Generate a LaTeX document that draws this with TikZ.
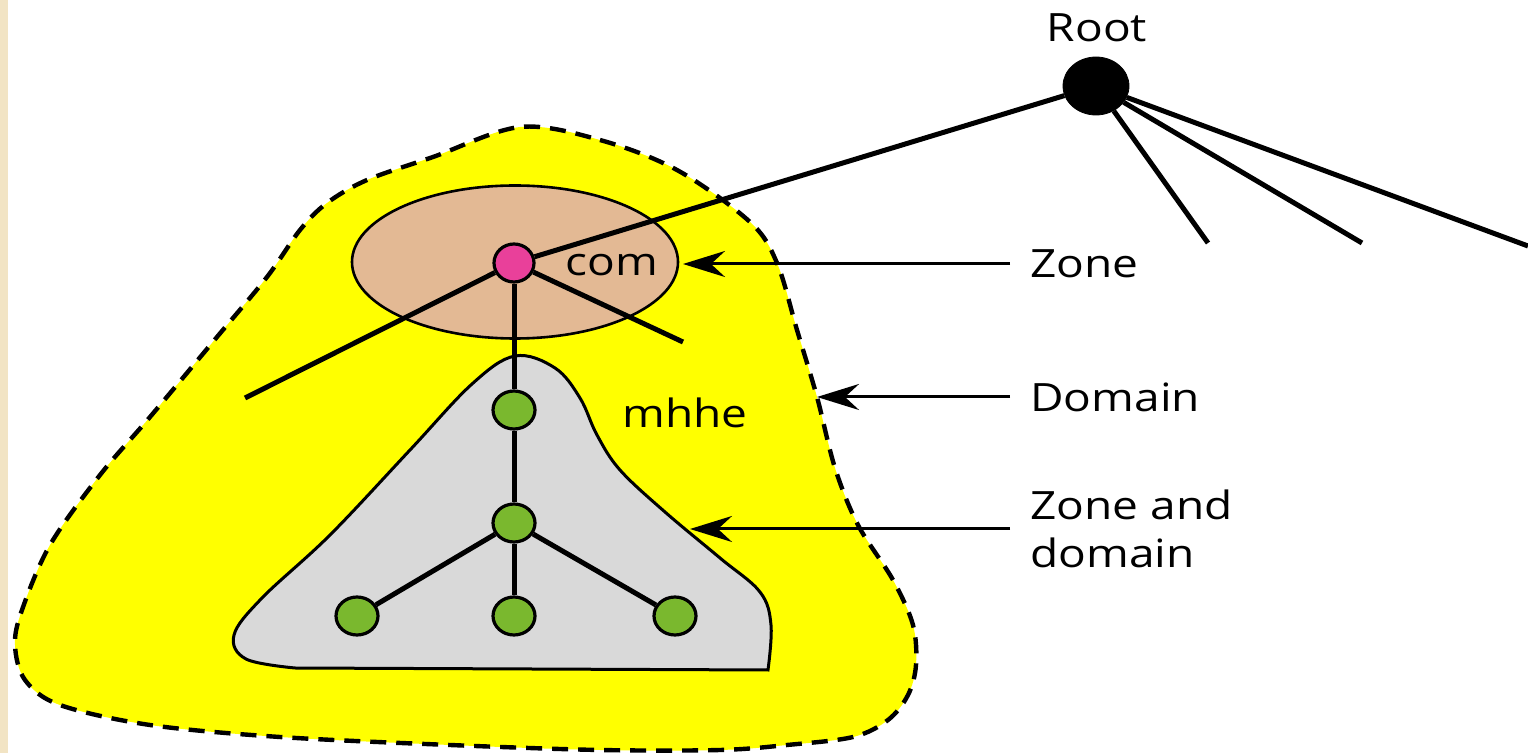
\documentclass[tikz,border=0pt]{standalone}
\usepackage{fontspec}
\newfontfamily\labelfont{Open Sans}[FakeStretch=1.18]
\usetikzlibrary{shapes.geometric,arrows.meta}
\definecolor{stripbg}{HTML}{F2E4C4}
\definecolor{domainyellow}{HTML}{FFFF00}
\definecolor{zonegray}{HTML}{D9D9D9}
\definecolor{zonetan}{HTML}{E3B994}
\definecolor{compink}{HTML}{E9409A}
\definecolor{leafgreen}{HTML}{7AB82E}
\begin{document}
\begin{tikzpicture}[x=0.5pt, y=-0.5pt]
    \tikzstyle{hub} = [shape=ellipse, draw=black, fill=black, minimum width=33pt, minimum height=29pt, inner sep=0pt]
    \tikzstyle{comnode} = [shape=ellipse, draw=black, line width=1.6pt, fill=compink, minimum width=20pt, minimum height=19pt, inner sep=0pt]
    \tikzstyle{leaf} = [shape=ellipse, draw=black, line width=1.6pt, fill=leafgreen, minimum width=21pt, minimum height=19pt, inner sep=0pt]
    \tikzstyle{zonearea} = [shape=ellipse, draw=black, line width=1.3pt, fill=zonetan, minimum width=163pt, minimum height=76.5pt, inner sep=0pt]
    \tikzstyle{txt} = [font=\labelfont\fontsize{19.5}{24}\selectfont, inner sep=0pt]
    \tikzstyle{side} = [txt, anchor=west, inner xsep=10pt, align=left]
    \tikzstyle{branch} = [line width=2.5pt]
    \tikzstyle{pointer} = [line width=1.5pt, -{Stealth[length=21pt, width=13pt, inset=7pt]}]
    \useasboundingbox (0,0) rectangle (1528,753);
    % 左边的窄条
    \fill[stripbg] (0,0) rectangle (8,753);

    % domain 和 zone 的区域
    \draw[fill=domainyellow, line width=2.2pt, dash pattern=on 8pt off 5pt]
        plot[smooth cycle, tension=0.55] coordinates {(520,127) (600,140) (677,170) (750,222) (777,263) (797,330) (817,397) (835,468) (858,525) (893,580) (913,625) (916,665) (908,695) (888,720) (853,737) (787,745) (720,750) (600,750) (450,745) (280,737) (150,725) (60,705) (25,680) (15,645) (22,610) (50,545) (100,475) (150,417) (217,337) (267,277) (300,230) (327,203) (367,180) (433,157)};
    \draw[fill=zonegray, line width=1.5pt]
        plot[smooth, tension=0.6] coordinates {(768,670) (771,625) (760,592) (720,558) (665,512) (620,470) (597,435) (580,398) (555,368) (515,356) (472,384) (410,450) (330,535) (262,598) (234,635) (246,659) (295,668)} -- cycle;

    % 节点
    \path   (515, 262) node [zonearea, name=comzone] {}
            (1096, 86) node [hub, name=root] {}
            (514, 263) node [comnode, name=com] {}
            (514, 410) node [leaf, name=g1] {}
            (514, 523) node [leaf, name=g2] {}
            (357, 616) node [leaf, name=g3] {}
            (514, 616) node [leaf, name=g4] {}
            (675, 616) node [leaf, name=g5] {};

    \coordinate (c1) at (245, 398);
    \coordinate (c2) at (683, 342);
    \coordinate (r1) at (1208, 243);
    \coordinate (r2) at (1362, 243);
    \coordinate (r3) at (1528, 246);
    \coordinate (zonetip) at (683, 264);
    \coordinate (domtip) at (817, 397);
    \coordinate (zdtip) at (690, 529);

    % 树的连线
    \draw[branch] (root) -- (com);
    \draw[branch] (root) -- (r1);
    \draw[branch] (root) -- (r2);
    \draw[branch] (root) -- (r3);
    \draw[branch] (com) -- (c1);
    \draw[branch] (com) -- (c2);
    \draw[branch] (com) -- (g1);
    \draw[branch] (g1) -- (g2);
    \draw[branch] (g2) -- (g3);
    \draw[branch] (g2) -- (g4);
    \draw[branch] (g2) -- (g5);

    % 文字
    \node[txt, anchor=base] (rootlbl) at (1097, 42) {Root};
    \node[txt, anchor=base west] (comlbl) at (565, 276) {com};
    \node[txt, anchor=base west] (mhhelbl) at (622, 428) {mhhe};
    \node[side] (zonelbl) at (1010, 264) {Zone};
    \node[side] (domlbl) at (1010, 397) {Domain};
    \node[side] (zdlbl) at (1010, 529) {Zone and\\domain};

    % 箭头
    \draw[pointer] (zonelbl.west) -- (zonetip);
    \draw[pointer] (domlbl.west) -- (domtip);
    \draw[pointer] (zdlbl.west) -- (zdtip);
\end{tikzpicture}
\end{document}
